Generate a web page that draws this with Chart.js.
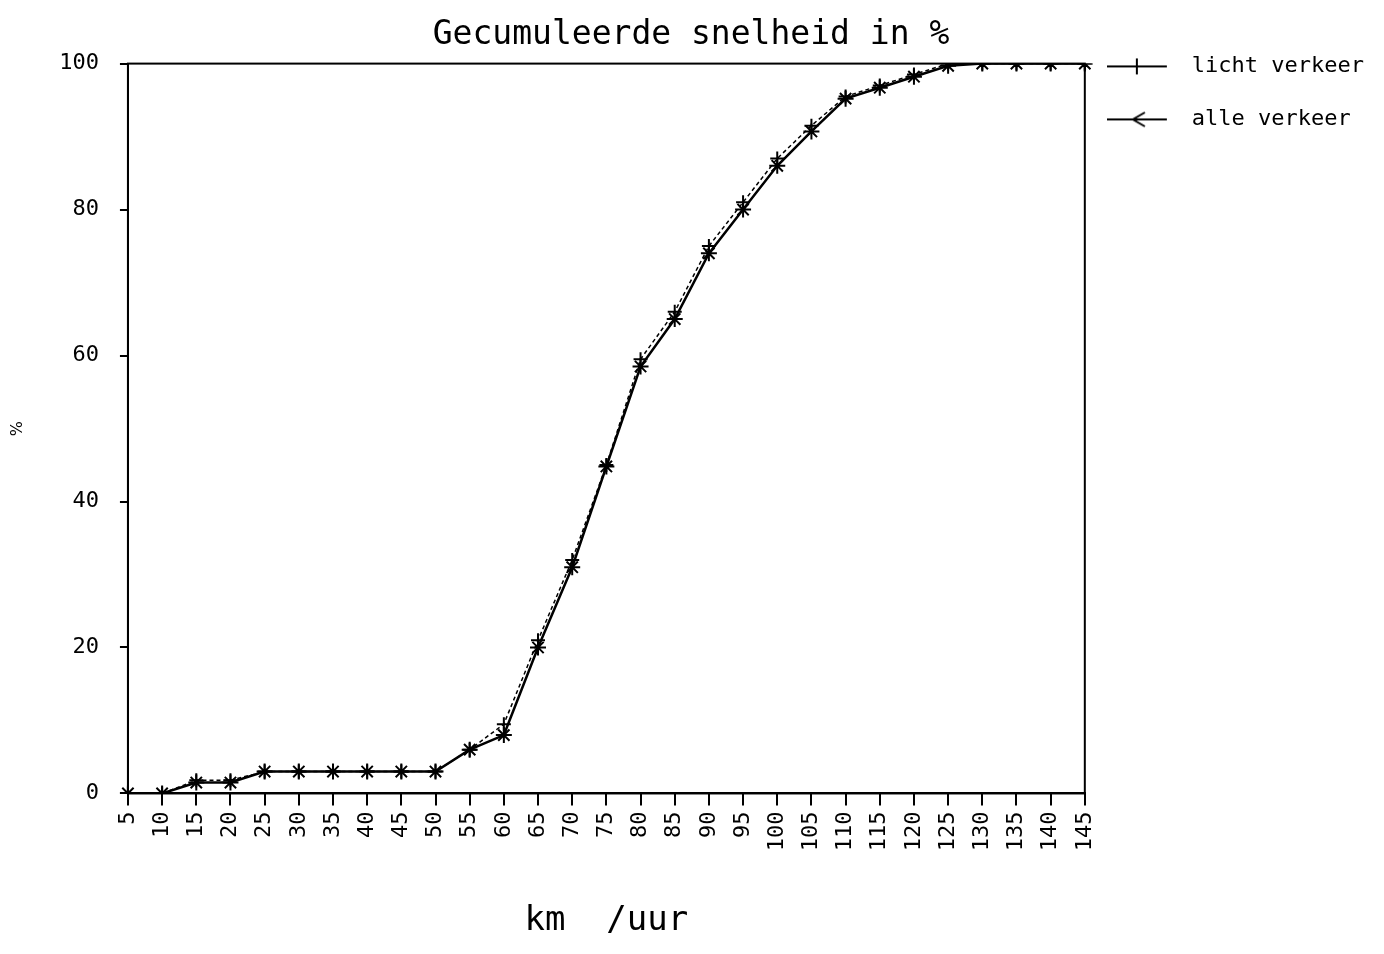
<!DOCTYPE html>
<html>
<head>
<meta charset="utf-8">
<script src="https://cdn.jsdelivr.net/npm/chart.js@4/dist/chart.umd.min.js"></script>
<style>
  html, body { margin: 0; padding: 0; background: #fff; }
  #box { width: 1384px; height: 954px; }
</style>
</head>
<body>
<div id="box"><canvas id="chart"></canvas></div>
<script>
const snelheden = [5, 10, 15, 20, 25, 30, 35, 40, 45, 50, 55, 60, 65, 70, 75,
  80, 85, 90, 95, 100, 105, 110, 115, 120, 125, 130, 135, 140, 145];

const lichtVerkeer = [0, 0, 1.8, 1.8, 3, 3, 3, 3, 3, 3, 6, 9.5, 21, 32, 45,
  59.5, 66, 75, 81, 87, 91.5, 95.5, 97, 98.5, 100, 100, 100, 100, 100];

const alleVerkeer = [0, 0, 1.5, 1.5, 3, 3, 3, 3, 3, 3, 6, 8, 20, 31, 44.8,
  58.5, 65, 74, 80, 86, 90.7, 95.2, 96.7, 98.2, 99.7, 100, 100, 100, 100];

const yTicks = [0, 20, 40, 60, 80, 100];

const mono = "'DejaVu Sans Mono', monospace";
const sans = "'DejaVu Sans', sans-serif";

// small canvas used as legend symbol: line with marker in the middle
function legendSymbol(marker) {
  const c = document.createElement("canvas");
  c.width = 83;
  c.height = 20;
  const g = c.getContext("2d");
  g.strokeStyle = "#000";
  g.lineWidth = 2;
  g.beginPath();
  g.moveTo(0, 10);
  g.lineTo(60, 10);
  g.stroke();
  g.beginPath();
  if (marker === "plus") {
    g.moveTo(30, 2);
    g.lineTo(30, 18);
  } else {
    g.moveTo(38, 3);
    g.lineTo(26, 10);
    g.lineTo(38, 17);
  }
  g.stroke();
  return c;
}

const boxPlugin = {
  id: "box",
  afterDatasetsDraw(chart) {
    const { ctx, chartArea: a } = chart;
    ctx.save();
    ctx.strokeStyle = "#000";
    ctx.lineWidth = 2;
    ctx.strokeRect(a.left, a.top, a.right - a.left, a.bottom - a.top);
    ctx.restore();
  },
};

const symbols = [legendSymbol("plus"), legendSymbol("arrow")];

new Chart(document.getElementById("chart"), {
  type: "line",
  data: {
    labels: snelheden,
    datasets: [
      {
        label: "licht verkeer",
        data: lichtVerkeer,
        borderColor: "#000",
        backgroundColor: "#000",
        borderWidth: 1.5,
        borderDash: [4, 3],
        pointStyle: "cross",
        pointRadius: 7,
        pointBorderWidth: 2,
        tension: 0,
      },
      {
        label: "alle verkeer",
        data: alleVerkeer,
        borderColor: "#000",
        backgroundColor: "#000",
        borderWidth: 2.5,
        pointStyle: "star",
        pointRadius: 8,
        pointBorderWidth: 2,
        tension: 0,
      },
    ],
  },
  options: {
    responsive: true,
    maintainAspectRatio: false,
    animation: false,
    layout: { padding: { left: 8, right: 10, top: 6, bottom: 8 } },
    plugins: {
      title: {
        display: true,
        text: "Gecumuleerde snelheid in %",
        color: "#000",
        font: { family: mono, size: 33, weight: "normal" },
        padding: { top: 10, bottom: 8 },
      },
      legend: {
        position: "right",
        align: "start",
        title: {
          display: true,
          text: " ",
          font: { size: 2 },
          padding: 8,
        },
        labels: {
          color: "#000",
          font: { family: mono, size: 22 },
          usePointStyle: true,
          pointStyleWidth: 65,
          padding: 31,
          generateLabels(chart) {
            return chart.data.datasets.map((ds, i) => ({
              text: ds.label,
              fontColor: "#000",
              fillStyle: "#000",
              strokeStyle: "#000",
              lineWidth: 0,
              pointStyle: symbols[i],
              datasetIndex: i,
              hidden: false,
            }));
          },
        },
      },
      tooltip: { enabled: false },
    },
    scales: {
      x: {
        offset: false,
        grid: { display: true, drawOnChartArea: false, color: "#000", tickLength: 12, lineWidth: 2 },
        border: { color: "#000", width: 2 },
        ticks: {
          color: "#000",
          font: { family: mono, size: 22 },
          maxRotation: 90,
          minRotation: 90,
          autoSkip: false,
          padding: 6,
        },
        title: {
          display: true,
          text: "km  /uur",
          color: "#000",
          font: { family: mono, size: 34 },
          padding: { top: 44 },
        },
      },
      y: {
        min: 0,
        max: 100,
        afterBuildTicks(axis) {
          axis.ticks = yTicks.map((v) => ({ value: v }));
        },
        grid: { display: true, drawOnChartArea: false, color: "#000", tickLength: 8, lineWidth: 2 },
        border: { color: "#000", width: 2 },
        ticks: {
          color: "#000",
          font: { family: mono, size: 22 },
          padding: 21,
        },
        title: {
          display: true,
          text: "%",
          color: "#000",
          font: { family: sans, size: 16 },
          padding: { top: 0, bottom: 11 },
        },
      },
    },
  },
  plugins: [boxPlugin],
});
</script>
</body>
</html>
